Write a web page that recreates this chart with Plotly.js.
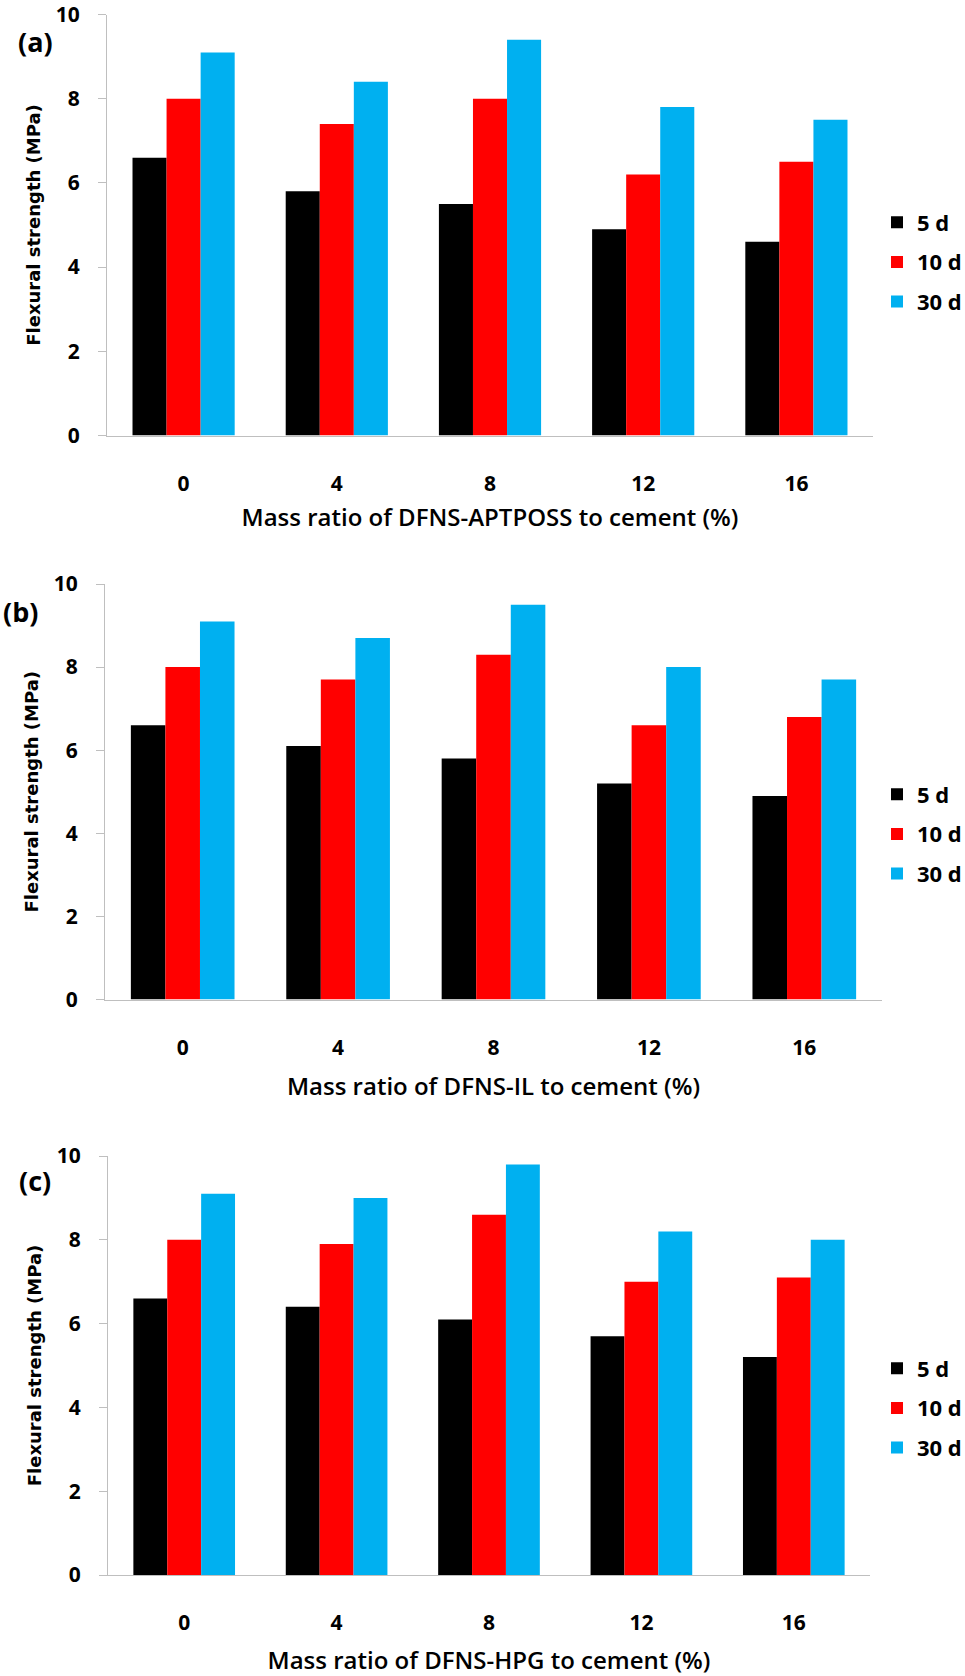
<!DOCTYPE html>
<html>
<head>
<meta charset="utf-8">
<script src="https://cdn.plot.ly/plotly-3.0.1.min.js"></script>
<style>html,body{margin:0;padding:0;background:#fff;}#chart{width:965px;height:1676px;}</style>
</head>
<body>
<div id="chart"></div>
<script>
const categories = ['0', '4', '8', '12', '16'];
const seriesNames = ['5 d', '10 d', '30 d'];
const seriesColors = ['#000000', '#FF0000', '#00B0F0'];

const aptposs5d = [6.6, 5.8, 5.5, 4.9, 4.6];
const aptposs10d = [8.0, 7.4, 8.0, 6.2, 6.5];
const aptposs30d = [9.1, 8.4, 9.4, 7.8, 7.5];

const il5d = [6.6, 6.1, 5.8, 5.2, 4.9];
const il10d = [8.0, 7.7, 8.3, 6.6, 6.8];
const il30d = [9.1, 8.7, 9.5, 8.0, 7.7];

const hpg5d = [6.6, 6.4, 6.1, 5.7, 5.2];
const hpg10d = [8.0, 7.9, 8.6, 7.0, 7.1];
const hpg30d = [9.1, 9.0, 9.8, 8.2, 8.0];

const panelLabels = ['(a)', '(b)', '(c)'];
const xTitles = [
  'Mass ratio of DFNS-APTPOSS to cement (%)',
  'Mass ratio of DFNS-IL to cement (%)',
  'Mass ratio of DFNS-HPG to cement (%)'
];
const yTitle = 'Flexural strength (MPa)';

const W = 965, H = 1676;
const panels = [
  {data: [aptposs5d, aptposs10d, aptposs30d], x0: 107, x1: 873, top: 14.5, bottom: 435.5, legendY: 262, label: [35.5, 41], xStand: 13},
  {data: [il5d, il10d, il30d], x0: 105, x1: 882, top: 584, bottom: 999.5, legendY: 834, label: [20, 612], xStand: 18},
  {data: [hpg5d, hpg10d, hpg30d], x0: 108, x1: 870, top: 1156, bottom: 1575, legendY: 1408, label: [35, 1180], xStand: 17}
];

const tickFont = {family: 'Open Sans', size: 21, color: '#000', weight: 700};
const traces = [];
const layout = {
  width: W, height: H,
  margin: {l: 0, r: 0, t: 0, b: 0, autoexpand: false},
  paper_bgcolor: '#fff', plot_bgcolor: '#fff',
  barmode: 'group', bargap: 0.333, bargroupgap: 0,
  font: {family: 'Open Sans', color: '#000'},
  annotations: []
};

panels.forEach((p, i) => {
  const n = i === 0 ? '' : String(i + 1);
  const xa = 'xaxis' + n, ya = 'yaxis' + n, lg = 'legend' + n;
  p.data.forEach((vals, k) => {
    traces.push({
      type: 'bar', x: categories, y: vals, name: seriesNames[k],
      marker: {color: seriesColors[k], line: {width: 0}},
      xaxis: 'x' + n, yaxis: 'y' + n, legend: lg,
      legendgroup: 'g' + i + '_' + k,
      hoverinfo: 'skip'
    });
  });
  layout[xa] = {
    domain: [p.x0 / W, p.x1 / W], anchor: 'y' + n, type: 'category',
    showline: true, linecolor: '#BFBFBF', linewidth: 1,
    ticks: '', showgrid: false, zeroline: false,
    tickfont: tickFont, ticklabelstandoff: 29, ticklabeloverflow: 'allow',
    title: {text: xTitles[i], font: {family: 'Open Sans', size: 24, weight: 600, color: '#000'}, standoff: p.xStand}
  };
  layout[ya] = {
    domain: [1 - p.bottom / H, 1 - p.top / H], anchor: 'x' + n,
    range: [0, 10], dtick: 2, tick0: 0,
    showline: true, linecolor: '#BFBFBF', linewidth: 1,
    ticks: 'outside', ticklen: 8, tickcolor: '#BFBFBF', tickwidth: 1,
    showgrid: false, zeroline: false,
    tickfont: tickFont, ticklabelstandoff: 14, ticklabeloverflow: 'allow',
    title: {text: yTitle, font: {family: 'DejaVu Sans', size: 18, weight: 700, color: '#000'}, standoff: 10}
  };
  layout[lg] = {
    x: 877 / W, xanchor: 'left', y: 1 - p.legendY / H, yanchor: 'middle',
    xref: 'paper', yref: 'paper',
    font: {family: 'Open Sans', size: 22, weight: 700, color: '#000'},
    bgcolor: 'rgba(0,0,0,0)', borderwidth: 0,
    tracegroupgap: 8, traceorder: 'grouped'
  };
  layout.annotations.push({
    text: panelLabels[i], xref: 'paper', yref: 'paper',
    x: p.label[0] / W, y: 1 - p.label[1] / H, xanchor: 'center', yanchor: 'middle',
    showarrow: false, font: {family: 'Open Sans', size: 27, weight: 700, color: '#000'}
  });
});

Plotly.newPlot('chart', traces, layout, {displayModeBar: false, staticPlot: true});
</script>
</body>
</html>
